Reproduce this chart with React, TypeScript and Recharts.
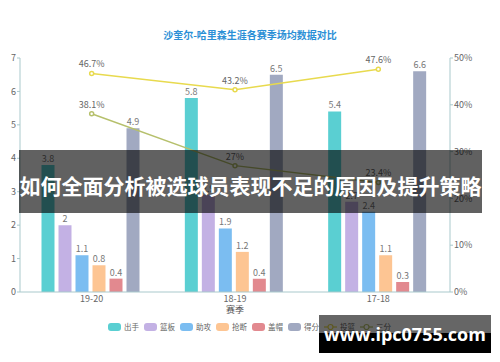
import React from 'react';
import { ComposedChart, Bar, Line, XAxis, YAxis, LabelList, Legend } from 'recharts';

const seasons = ['19-20', '18-19', '17-18'];
const shots = [3.8, 5.8, 5.4];
const rebounds = [2, 2.9, 2.7];
const assists = [1.1, 1.9, 2.4];
const steals = [0.8, 1.2, 1.1];
const blocks = [0.4, 0.4, 0.3];
const points = [4.9, 6.5, 6.6];
const fgPct = [46.7, 43.2, 47.6];
const threePct = [38.1, 27, 23.4];
const leftTicks = [0, 1, 2, 3, 4, 5, 6, 7];
const rightTicks = [0, 10, 20, 30, 40, 50];
const boundaryTicks = [0, 1, 2, 3];

const barSeries = [
  { key: '出手', values: shots, color: '#5acfd2' },
  { key: '篮板', values: rebounds, color: '#c3b1e4' },
  { key: '助攻', values: assists, color: '#7bbdf1' },
  { key: '抢断', values: steals, color: '#fdc593' },
  { key: '盖帽', values: blocks, color: '#e2898f' },
  { key: '得分', values: points, color: '#a1a9c1' },
];
const lineSeries = [
  { key: '投篮', values: fgPct, color: '#e8da4e' },
  { key: '三分', values: threePct, color: '#b6c06c' },
];

const data = seasons.map((s, i) => {
  const row: Record<string, any> = { season: s };
  barSeries.forEach((b) => (row[b.key] = b.values[i]));
  lineSeries.forEach((l) => (row[l.key] = l.values[i]));
  return row;
});

const FONT = '"Noto Sans CJK SC", "Noto Sans", sans-serif';

const LegendContent = () => (
  <div style={{ display: 'flex', justifyContent: 'center', alignItems: 'center', fontFamily: FONT, fontSize: 7.5, color: '#666', paddingLeft: 4 }}>
    {barSeries.map((b) => (
      <div key={b.key} style={{ display: 'flex', alignItems: 'center', marginRight: 5 }}>
        <span style={{ display: 'inline-block', width: 13, height: 8, borderRadius: 3, background: b.color, marginRight: 3 }} />
        <span>{b.key}</span>
      </div>
    ))}
    {lineSeries.map((l) => (
      <div key={l.key} style={{ display: 'flex', alignItems: 'center', marginRight: 5 }}>
        <svg width={13} height={8} style={{ marginRight: 3 }}>
          <line x1={0} y1={4} x2={13} y2={4} stroke={l.color} strokeWidth={1.2} />
          <circle cx={6.5} cy={4} r={2.5} fill="#fff" stroke={l.color} strokeWidth={1.2} />
        </svg>
        <span>{l.key}</span>
      </div>
    ))}
  </div>
);

export default function App() {
  return (
    <div style={{ position: 'absolute', left: 0, top: 0, width: 500, height: 362, background: '#fff', overflow: 'hidden' }}>
      <div style={{ position: 'absolute', left: 0, top: 27, width: 500, textAlign: 'center', fontFamily: FONT, fontSize: 10, fontWeight: 700, color: '#2b8fd6' }}>
        沙奎尔-哈里森生涯各赛季场均数据对比
      </div>
      <ComposedChart
        width={500}
        height={362}
        data={data}
        margin={{ top: 58, right: 0, bottom: 40, left: 0 }}
        barCategoryGap="15%"
        barGap={4}
      >
        <XAxis
          xAxisId="bounds"
          type="number"
          domain={[0, 3]}
          ticks={boundaryTicks}
          height={0}
          axisLine={false}
          tick={false}
          tickSize={4}
          stroke="#8a9ea0"
        />
        <XAxis
          dataKey="season"
          height={30}
          tickLine={false}
          tickSize={0}
          tickMargin={4}
          stroke="#a9c9cc"
          tick={{ fill: '#666', fontSize: 9, fontFamily: FONT }}
          label={{ value: '赛季', position: 'insideBottom', offset: 9, fill: '#555', fontSize: 9, fontFamily: FONT }}
        />
        <YAxis
          yAxisId="left"
          width={20}
          domain={[0, 7]}
          ticks={leftTicks}
          tickSize={3}
          tickMargin={1}
          stroke="#a9c9cc"
          tick={{ fill: '#666', fontSize: 9, fontFamily: FONT }}
        />
        <YAxis
          yAxisId="right"
          orientation="right"
          width={50}
          domain={[0, 50]}
          ticks={rightTicks}
          tickSize={3}
          tickMargin={1}
          stroke="#a9c9cc"
          tickFormatter={(v: number) => `${v}%`}
          tick={{ fill: '#666', fontSize: 9, fontFamily: FONT }}
        />
        {barSeries.map((b) => (
          <Bar key={b.key} dataKey={b.key} yAxisId="left" fill={b.color} isAnimationActive={false}>
            <LabelList dataKey={b.key} position="top" offset={3} fill="#777" fontSize={9} fontFamily={FONT} />
          </Bar>
        ))}
        {lineSeries.map((l) => (
          <Line
            key={l.key}
            dataKey={l.key}
            yAxisId="right"
            stroke={l.color}
            strokeWidth={1.5}
            dot={{ r: 2, fill: '#fff', stroke: l.color, strokeWidth: 1.5 }}
            isAnimationActive={false}
          >
            <LabelList dataKey={l.key} position="top" offset={6} fill="#666" fontSize={9} fontFamily={FONT} formatter={(v: any) => `${v}%`} />
          </Line>
        ))}
        <Legend
          verticalAlign="middle"
          align="center"
          layout="horizontal"
          content={<LegendContent />}
          wrapperStyle={{ top: 321, left: 0, width: 500, bottom: 'auto' }}
        />
      </ComposedChart>
      <div style={{ position: 'absolute', left: 19, top: 150, width: 463, height: 63, background: 'rgba(0,0,0,0.62)', color: '#fff', fontFamily: FONT, fontSize: 21, fontWeight: 700, display: 'flex', alignItems: 'center', justifyContent: 'center', paddingTop: 6, boxSizing: 'border-box', whiteSpace: 'nowrap' }}>
        如何全面分析被选球员表现不足的原因及提升策略
      </div>
      <div style={{ position: 'absolute', left: 319, top: 315, width: 172, height: 18, background: 'rgba(0,0,0,0.6)' }} />
      <div style={{ position: 'absolute', left: 319, top: 333, width: 172, height: 20, background: '#000' }} />
      <div style={{ position: 'absolute', left: 319, top: 322, width: 172, height: 24, color: '#fff', fontFamily: '"Open Sans", sans-serif', fontSize: 18, fontWeight: 700, lineHeight: '24px', textAlign: 'center', whiteSpace: 'nowrap' }}>
        www.ipc0755.com
      </div>
    </div>
  );
}
